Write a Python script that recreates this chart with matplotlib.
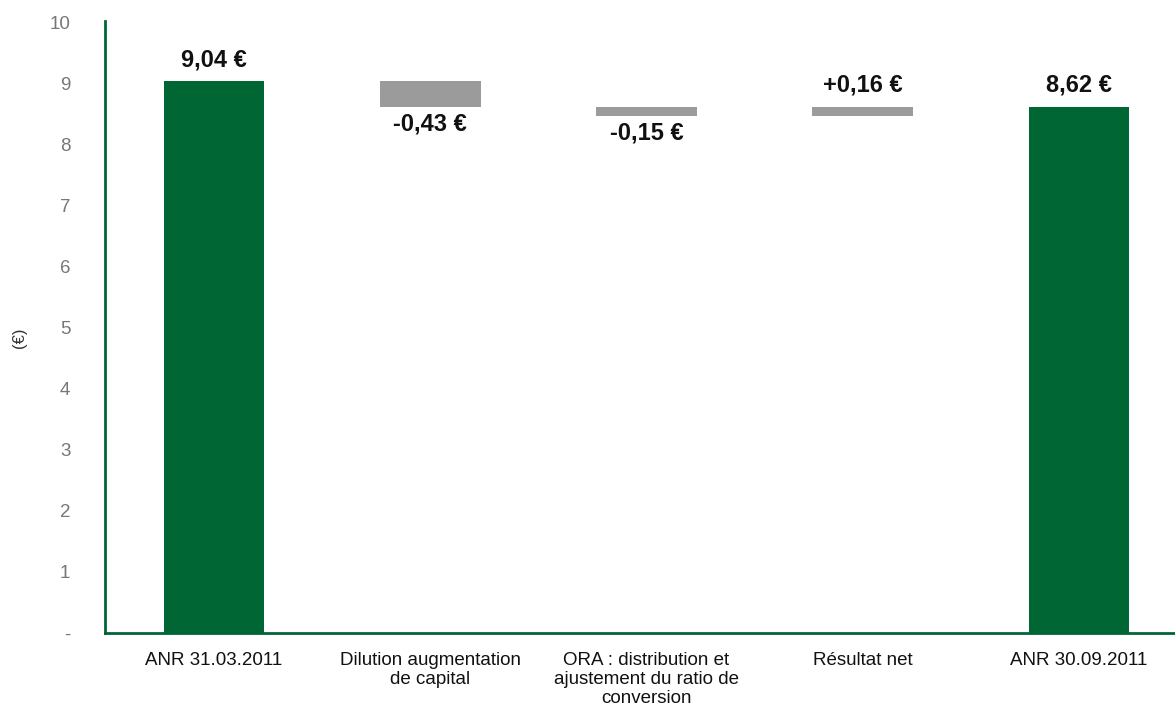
import matplotlib.pyplot as plt
import numpy as np

plt.rcParams["font.family"] = ["Liberation Sans", "DejaVu Sans"]

# données du graphique (ANR par action, en euros)
categories = [
    "ANR 31.03.2011",
    "Dilution augmentation\nde capital",
    "ORA : distribution et\najustement du ratio de\nconversion",
    "Résultat net",
    "ANR 30.09.2011",
]
values = [9.04, -0.43, -0.15, 0.16, 8.62]
is_total = [True, False, False, False, True]
value_labels = ["9,04 €", "-0,43 €", "-0,15 €", "+0,16 €", "8,62 €"]
y_ticks = [0, 1, 2, 3, 4, 5, 6, 7, 8, 9, 10]
y_tick_labels = ["-", "1", "2", "3", "4", "5", "6", "7", "8", "9", "10"]

GREEN = "#006633"
GREY = "#9b9b9b"

fig = plt.figure(figsize=(11.75, 7.1), dpi=100)
ax = fig.add_axes([105 / 1175, 77 / 710, 1070 / 1175, 612 / 710])

x = np.arange(len(categories))
running = 0.0
for i, (val, total, lab) in enumerate(zip(values, is_total, value_labels)):
    if total:
        bottom, height = 0.0, val
        running = val
        color = GREEN
    else:
        bottom = running + min(val, 0)
        height = abs(val)
        running += val
        color = GREY
    ax.bar(x[i], height, bottom=bottom, width=0.465, color=color, zorder=2)

    # étiquette de valeur : au-dessus si positif, en dessous si négatif
    if val >= 0:
        ax.annotate(lab, (x[i], bottom + height), xytext=(0, 7),
                    textcoords="offset points", ha="center", va="bottom",
                    fontsize=17, fontweight="bold", color="#111111")
    else:
        ax.annotate(lab, (x[i], bottom), xytext=(0, -4),
                    textcoords="offset points", ha="center", va="top",
                    fontsize=17, fontweight="bold", color="#111111")

ax.set_xlim(-0.504, 4.444)
ax.set_ylim(0, 10.02)
ax.set_yticks(y_ticks)
ax.set_yticklabels(y_tick_labels)
ax.set_xticks(x)
ax.set_xticklabels(categories, fontsize=13.5, color="#111111", linespacing=1.15)
ax.tick_params(axis="y", length=0, pad=25, labelsize=13.5, labelcolor="#777777")
ax.tick_params(axis="x", length=0, pad=14)

for side in ["top", "right"]:
    ax.spines[side].set_visible(False)
for side in ["left", "bottom"]:
    ax.spines[side].set_color(GREEN)
    ax.spines[side].set_linewidth(2)

fig.text(20 / 1175, 1 - 338 / 710, "(€)", rotation=90, ha="center", va="center",
         fontsize=12, color="#333333")

fig.savefig("out.png", dpi=100)
plt.close(fig)
